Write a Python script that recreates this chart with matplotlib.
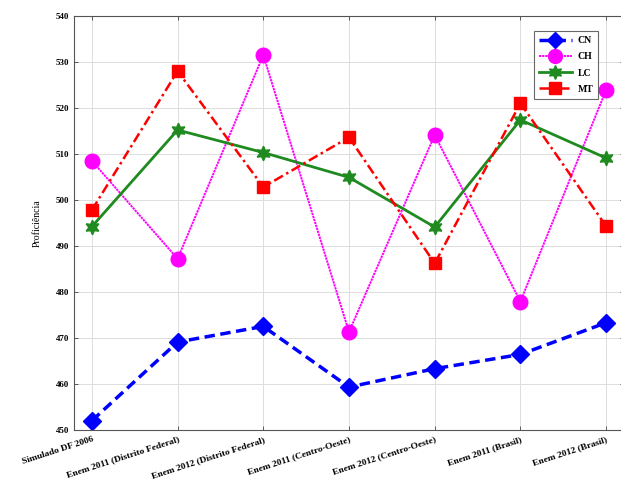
import matplotlib.pyplot as plt

plt.rcParams['font.family'] = ['Liberation Serif', 'DejaVu Serif']
plt.rcParams['font.weight'] = 'bold'

exames = ['Simulado DF 2006', 'Enem 2011 (Distrito Federal)', 'Enem 2012 (Distrito Federal)',
          'Enem 2011 (Centro-Oeste)', 'Enem 2012 (Centro-Oeste)', 'Enem 2011 (Brasil)',
          'Enem 2012 (Brasil)']
cn = [452.0, 469.1, 472.5, 459.3, 463.3, 466.4, 473.3]
ch = [508.5, 487.2, 531.5, 471.3, 514.1, 477.9, 523.9]
lc = [494.2, 515.2, 510.3, 504.9, 494.1, 517.4, 509.1]
mt = [497.8, 528.0, 502.8, 513.6, 486.2, 521.0, 494.3]

x = list(range(1, len(exames) + 1))

fig = plt.figure(figsize=(6.21, 4.83), dpi=100)
ax = fig.add_axes([0.119, 0.110, 0.886, 0.857])

ax.plot(x, cn, color='blue', ls=(0, (3, 1.6)), lw=2.5, marker='D', ms=9, mfc='blue', mec='blue', label='CN')
ax.plot(x, ch, color='magenta', ls=(0, (1.2, 0.4)), lw=1.4, marker='o', ms=10.5, mfc='magenta', mec='magenta', label='CH')
ax.plot(x, lc, color='#1f8a1f', ls='-', lw=2, marker=(6, 1, 0), ms=10.5, mfc='#1f8a1f', mec='#1f8a1f', label='LC')
ax.plot(x, mt, color='red', ls=(0, (4, 1.5, 1, 1.5)), lw=1.8, marker='s', ms=8.5, mfc='red', mec='red', label='MT')

ax.set_xlim(0.79, 7.21)
ax.set_ylim(450, 540)
ax.set_yticks(range(450, 541, 10))
ax.set_xticks(x)
ax.set_xticklabels(exames, rotation=18, ha='right', va='top', rotation_mode='anchor', fontsize=6.8)
ax.tick_params(axis='x', pad=4)
ax.tick_params(axis='y', labelsize=6.5)
ax.tick_params(direction='in', top=True, right=True, length=3, width=0.6, color='#444444')
ax.grid(True, color='#dddddd', lw=0.7)
ax.set_axisbelow(True)
for s in ax.spines.values():
    s.set_color('#555555')
    s.set_linewidth(0.8)

ax.set_ylabel('Proficiência', fontsize=7, labelpad=10)

leg = ax.legend(loc='upper right', bbox_to_anchor=(0.962, 0.975), fontsize=7,
                fancybox=False, edgecolor='#444444', handlelength=3.4, markerscale=0.95,
                borderpad=0.5, labelspacing=0.75, handletextpad=0.6)
leg.get_frame().set_linewidth(0.8)

fig.savefig('out.png', dpi=100)
